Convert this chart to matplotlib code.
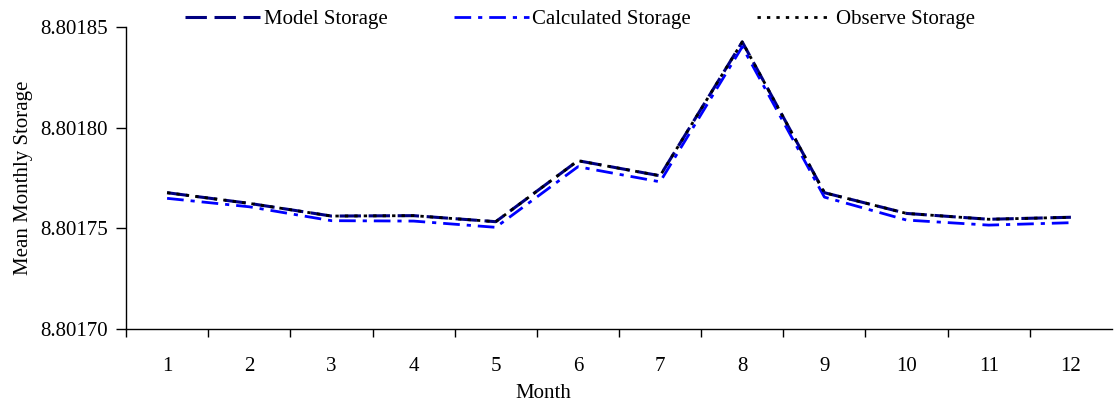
import matplotlib
matplotlib.use("Agg")
import matplotlib.pyplot as plt
from matplotlib.ticker import FixedLocator, FormatStrFormatter

months = [1, 2, 3, 4, 5, 6, 7, 8, 9, 10, 11, 12]
month_labels = [str(m) for m in months]

model_storage = [8.8017677, 8.8017624, 8.8017561, 8.8017563, 8.8017533, 8.8017836,
                 8.8017761, 8.8018426, 8.8017677, 8.8017574, 8.8017545, 8.8017555]
calculated_storage = [8.8017649, 8.8017607, 8.8017538, 8.8017536, 8.8017505, 8.8017806,
                      8.8017731, 8.8018402, 8.8017655, 8.8017541, 8.8017516, 8.8017528]
observe_storage = [8.8017677, 8.8017624, 8.8017561, 8.8017563, 8.8017533, 8.8017836,
                   8.8017761, 8.8018426, 8.8017677, 8.8017574, 8.8017545, 8.8017555]

y_ticks = [8.80170, 8.80175, 8.80180, 8.80185]

plt.rcParams["font.family"] = ["Liberation Serif", "DejaVu Serif"]
plt.rcParams["font.size"] = 15

fig = plt.figure(figsize=(11.15, 4.05), dpi=100)
ax = fig.add_axes([126 / 1115, 1 - 329 / 405, (1112 - 126) / 1115, (329 - 27) / 405])

ax.plot(months, model_storage, color="#000080", lw=2.2, ls=(0, (7, 2.5)), label="Model Storage")
ax.plot(months, calculated_storage, color="#0000FF", lw=2.0, ls=(0, (6, 2.5, 1.5, 2.5)),
        label="Calculated Storage")
ax.plot(months, observe_storage, color="black", lw=2.0, ls=(0, (1.2, 2.2)), label="Observe Storage")

ax.set_xlim(0.5, 12.5)
ax.set_ylim(y_ticks[0], y_ticks[-1])
ax.yaxis.set_major_locator(FixedLocator(y_ticks))
ax.yaxis.set_major_formatter(FormatStrFormatter("%.5f"))

# category labels centred, tick marks between categories (Excel style)
ax.set_xticks(months)
ax.set_xticklabels(month_labels)
ax.tick_params(axis="x", length=0, pad=20)
ax.set_xticks([m + 0.5 for m in months[:-1]] + [0.5], minor=True)
ax.tick_params(axis="x", which="minor", length=6, width=1, direction="out")
ax.tick_params(axis="y", length=7, width=1, direction="out", pad=6)

ax.spines["top"].set_visible(False)
ax.spines["right"].set_visible(False)
ax.spines["left"].set_linewidth(1)
ax.spines["bottom"].set_linewidth(1)

ax.set_xlabel("Month", labelpad=6)
ax.xaxis.label.set_x((543 - 126) / 986)
ax.set_ylabel("Mean Monthly Storage", labelpad=5)

fig.legend(loc="center", bbox_to_anchor=(580 / 1115, 1 - 19 / 405), ncol=3, frameon=False,
           handlelength=3.6, handletextpad=0.15, columnspacing=3.2, borderpad=0, fontsize=15)

fig.savefig("out.png", dpi=100)
